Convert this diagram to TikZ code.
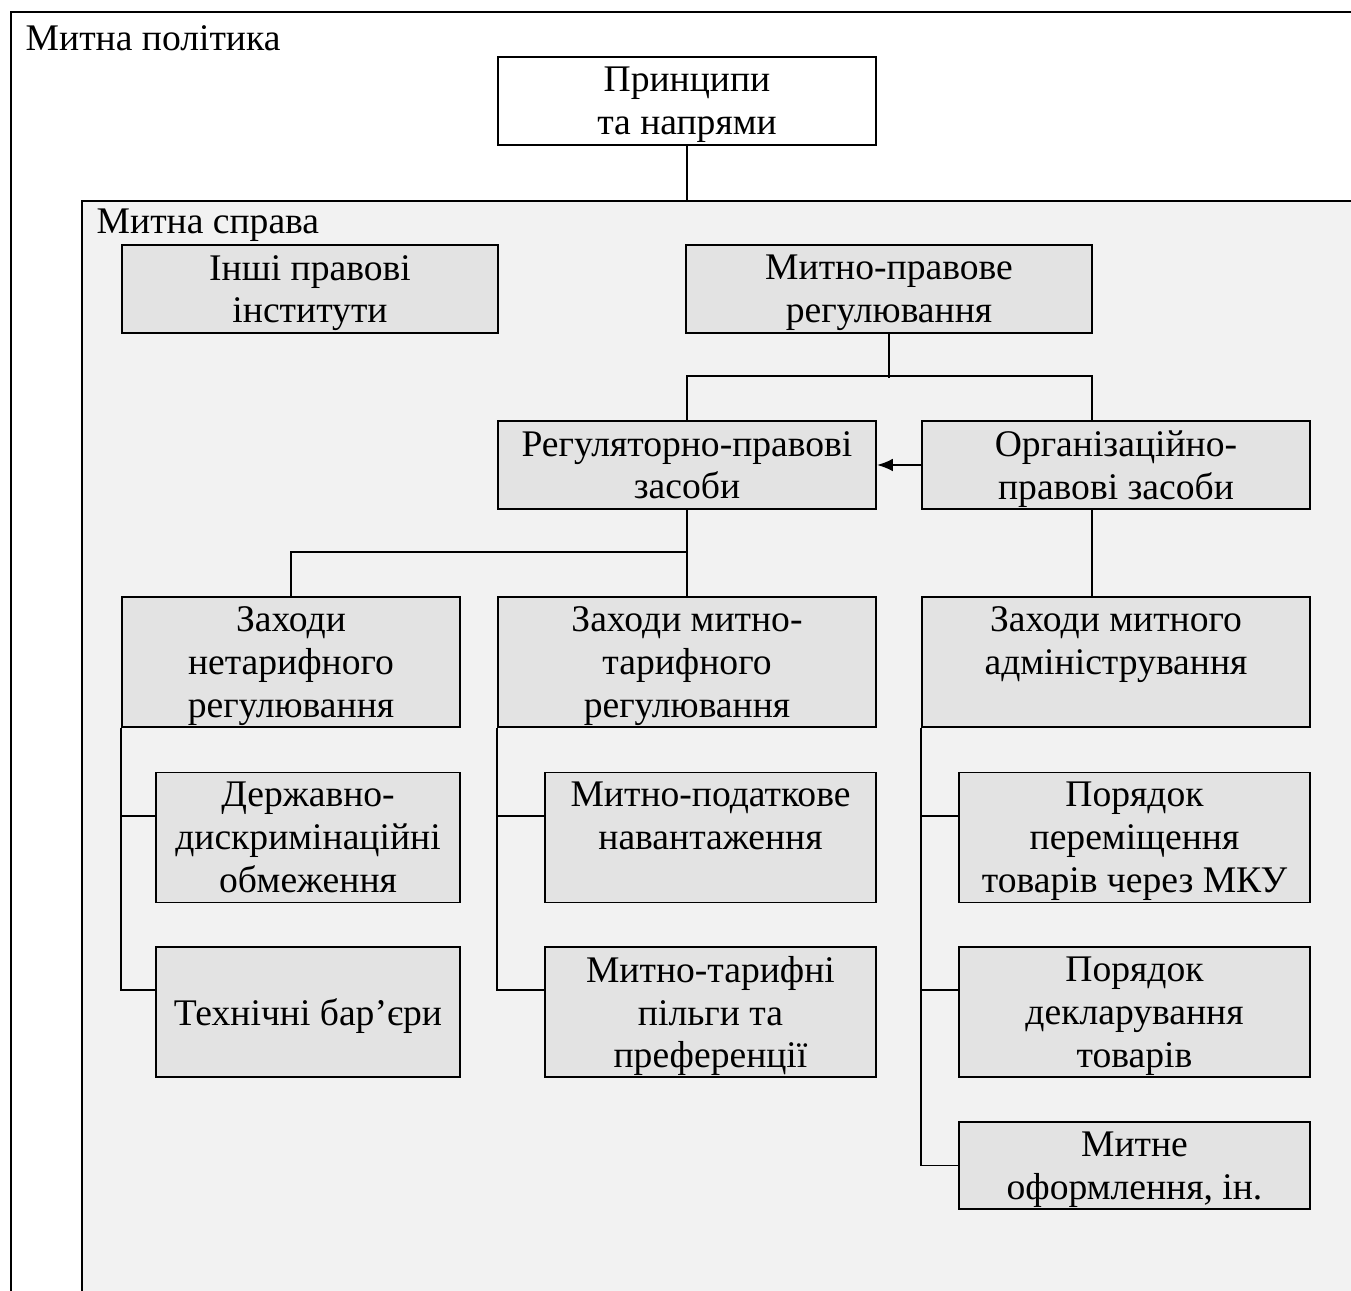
\documentclass[tikz,border=0pt]{standalone}
\usepackage{fontspec}
\setmainfont{Liberation Serif}
\usepackage{tikz}
\usetikzlibrary{positioning, arrows.meta}
\definecolor{boxgray}{HTML}{E3E3E3}
\definecolor{areagray}{HTML}{F2F2F2}

\begin{document}
\begin{tikzpicture}[scale=1.0,
    box/.style={draw, line width=0.55pt, fill=boxgray, align=center, inner sep=0pt,
        minimum height=0.88cm, text depth=0pt, font=\fontsize{10.7pt}{12.2pt}\selectfont},
    tallbox/.style={box, minimum height=1.30cm},
    frametitle/.style={anchor=west, inner sep=0pt, font=\fontsize{10.7pt}{12.2pt}\selectfont},
    link/.style={line width=0.55pt}]
    \clip (0,0) rectangle (13.51,-12.91);

    % Outer frame and inner area
    \draw[line width=0.6pt] (0.11,-0.12) rectangle (14,-13.5);
    \draw[line width=0.6pt, fill=areagray] (0.82,-2.01) rectangle (14,-13.5);
    \coordinate (spravaTop) at (6.87,-2.01);
    \node[frametitle] (polityka) at (0.25,-0.38) {Митна політика};
    \node[frametitle] (sprava) at (0.96,-2.25) {Митна справа};

    % Top levels
    \node[box, fill=white, minimum width=3.78cm] (princ) at (6.87,-1.01) {Принципи\\та напрями};
    \node[box, minimum width=3.76cm] (inshi) at (3.10,-2.89) {Інші правові\\інститути};
    \node[box, minimum width=4.06cm] (mpr) at (8.89,-2.89) {Митно-правове\\регулювання};
    \node[box, minimum width=3.78cm] (reg) at (6.87,-4.65) {Регуляторно-правові\\засоби};
    \node[box, minimum width=3.88cm] (org) at (11.16,-4.65) {Організаційно-\\правові засоби};

    % Groups of measures
    \node[tallbox, minimum width=3.38cm] (netar) at (2.91,-6.62) {Заходи\\нетарифного\\регулювання};
    \node[tallbox, minimum width=3.78cm] (mtar) at (6.87,-6.62) {Заходи митно-\\тарифного\\регулювання};
    \node[tallbox, minimum width=3.88cm] (admin) at (11.16,-6.62) {Заходи митного\\адміністрування\\~};

    % Single measures
    \node[tallbox, minimum width=3.04cm] (derzh) at (3.08,-8.375) {Державно-\\дискримінаційні\\обмеження};
    \node[tallbox, minimum width=3.04cm] (tekhn) at (3.08,-10.12) {Технічні бар’єри};
    \node[tallbox, minimum width=3.31cm] (podat) at (7.105,-8.375) {Митно-податкове\\навантаження\\~};
    \node[tallbox, minimum width=3.31cm] (pilgy) at (7.105,-10.12) {Митно-тарифні\\пільги та\\преференції};
    \node[tallbox, minimum width=3.51cm] (perem) at (11.345,-8.375) {Порядок\\переміщення\\товарів через МКУ};
    \node[tallbox, minimum width=3.51cm] (deklar) at (11.345,-10.12) {Порядок\\декларування\\товарів};
    \node[box, minimum width=3.51cm, minimum height=0.87cm] (oform) at (11.345,-11.655) {Митне\\оформлення, ін.};

    % Connectors
    \draw[link] (princ.south) -- (spravaTop);
    \draw[link] (mpr.south) -- ++(0,-0.44);
    \draw[link] (reg.north) -- ++(0,0.44) -| ([xshift=-2.4mm]org.north);
    \draw[link, -{Latex[length=4.5pt, width=3.6pt]}] (org.west) -- (reg.east);
    \draw[link] (reg.south) -- (mtar.north);
    \draw[link] (netar.north) -- ++(0,0.44) -| (reg.south);
    \draw[link] ([xshift=-2.4mm]org.south) -- ([xshift=-2.4mm]org.south |- admin.north);

    \draw[link] ([yshift=-4.4mm]derzh.north west) -| (netar.south west);
    \draw[link] ([yshift=-4.4mm]tekhn.north west) -| (netar.south west);
    \draw[link] ([yshift=-4.4mm]podat.north west) -| (mtar.south west);
    \draw[link] ([yshift=-4.4mm]pilgy.north west) -| (mtar.south west);
    \draw[link] ([yshift=-4.4mm]perem.north west) -| (admin.south west);
    \draw[link] ([yshift=-4.4mm]deklar.north west) -| (admin.south west);
    \draw[link] (oform.west) -| (admin.south west);
\end{tikzpicture}
\end{document}
